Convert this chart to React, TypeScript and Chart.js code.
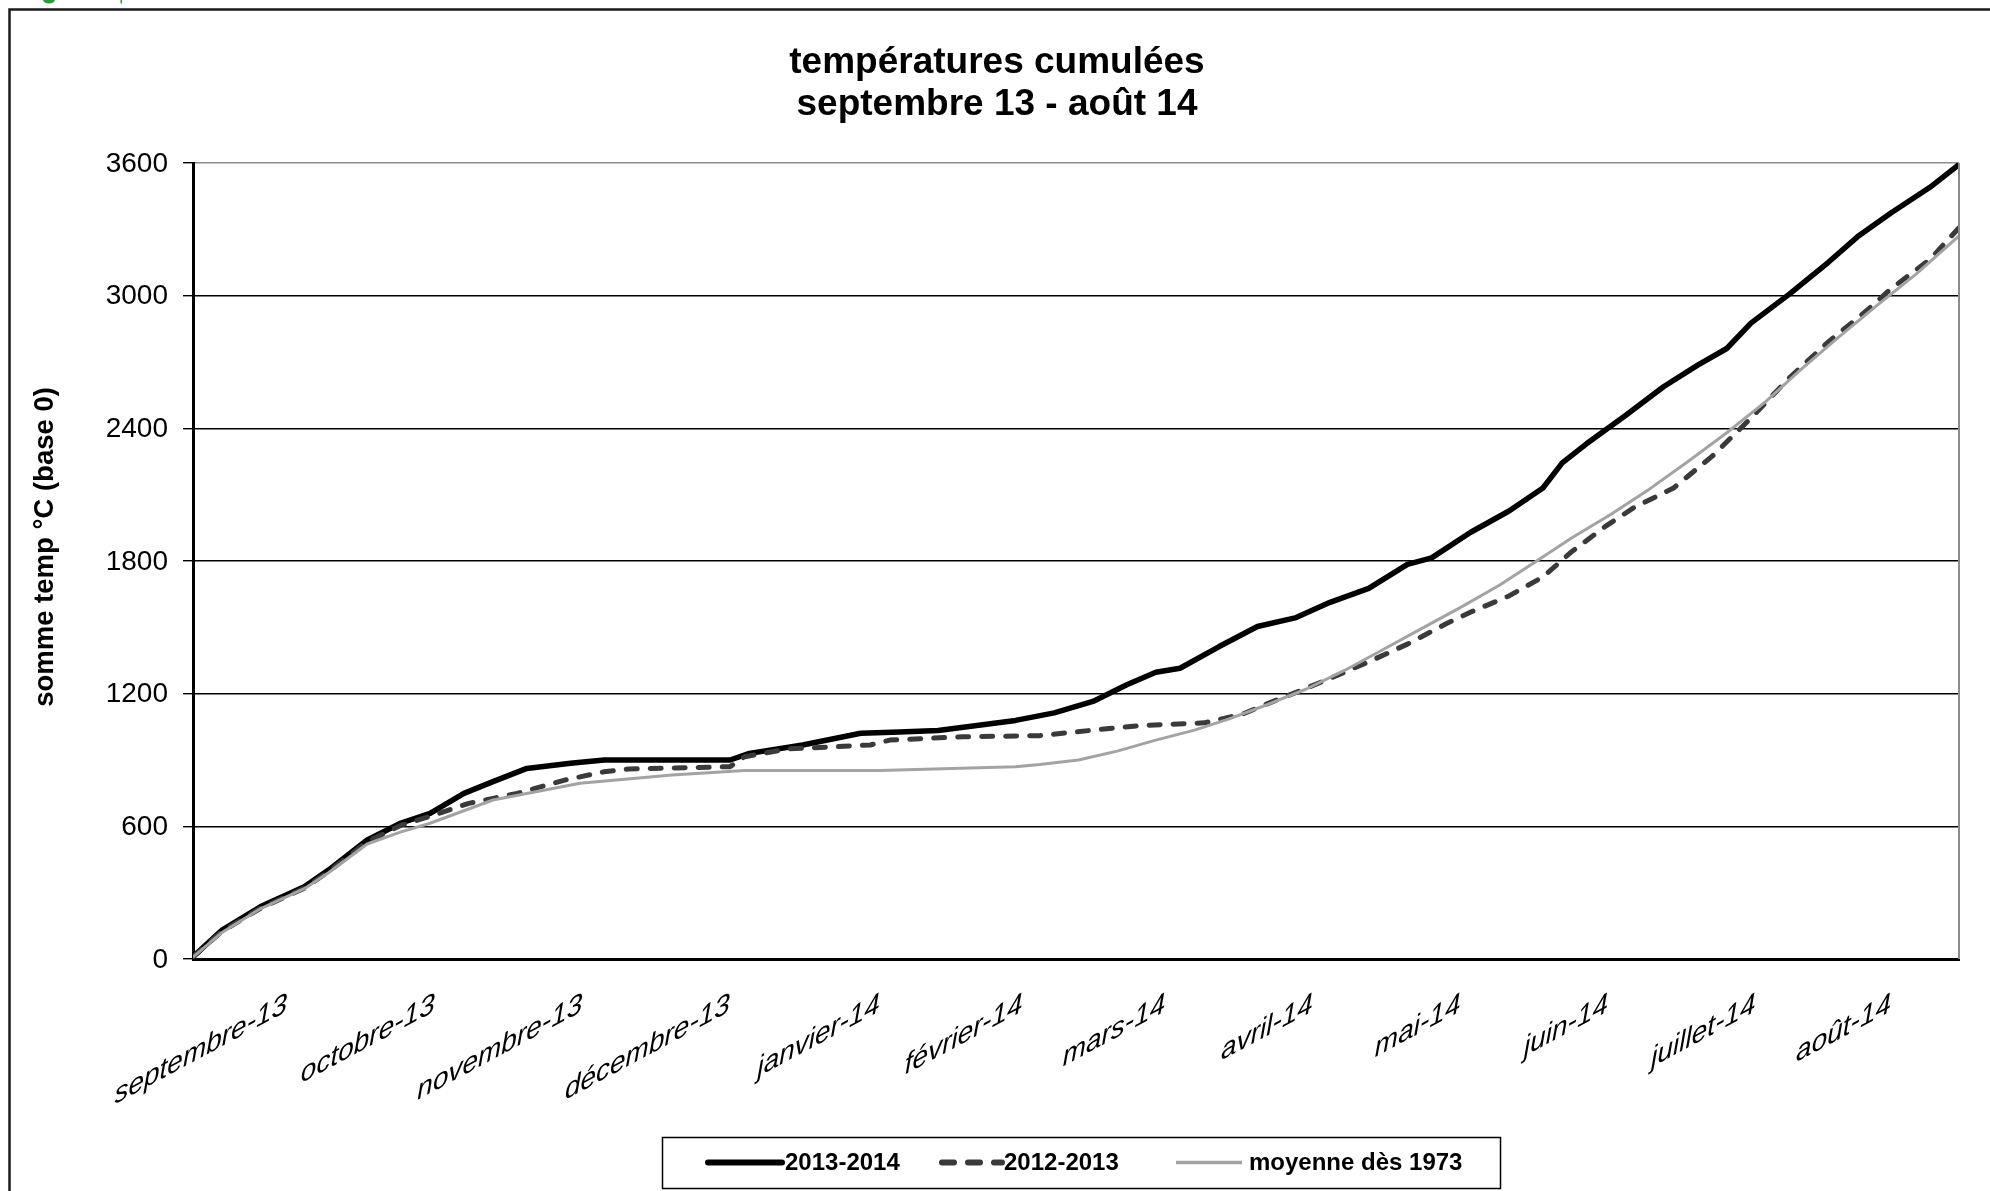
import React, { useEffect, useRef } from 'react';
import { Chart, registerables } from 'chart.js';

Chart.register(...registerables);

const FONT = '"Liberation Sans", Arial, Helvetica, sans-serif';

const TITLE_LINES = ['températures cumulées', 'septembre 13 - août 14'];
const Y_TITLE = 'somme temp °C (base 0)';
const Y_TICKS = [0, 600, 1200, 1800, 2400, 3000, 3600];
const MONTH_LABELS = [
  'septembre-13', 'octobre-13', 'novembre-13', 'décembre-13', 'janvier-14', 'février-14',
  'mars-14', 'avril-14', 'mai-14', 'juin-14', 'juillet-14', 'août-14',
];
const MONTH_CENTER_DAYS = [14.5, 45, 75.5, 106, 137, 166.5, 196, 226.5, 257, 287.5, 318, 346];
const SERIES_NAMES = ['2013-2014', '2012-2013', 'moyenne dès 1973'];

// 2013-2014 (day index from 1 Sept, cumulated °C)
const DAYS_1314 = [0, 6, 14, 23, 28, 36, 43, 49, 56, 62, 69, 78, 85, 111, 115, 126, 138, 146, 154, 162, 170, 178, 186, 193, 199, 204, 212, 220, 228, 235, 243, 251, 256, 264, 272, 279, 283, 288, 296, 304, 311, 317, 322, 330, 338, 344, 351, 359, 365];
const VALUES_1314 = [10, 131, 237, 327, 402, 538, 615, 659, 749, 802, 862, 885, 900, 900, 930, 968, 1021, 1027, 1033, 1056, 1079, 1113, 1165, 1240, 1297, 1315, 1412, 1504, 1544, 1613, 1676, 1785, 1814, 1929, 2026, 2130, 2244, 2330, 2457, 2589, 2686, 2761, 2876, 3008, 3151, 3266, 3375, 3490, 3593];

// 2012-2013
const DAYS_1213 = [0, 6, 14, 23, 28, 36, 43, 49, 57, 67, 77, 85, 90, 111, 114, 123, 140, 144, 159, 175, 186, 196, 209, 217, 222, 228, 235, 243, 251, 259, 264, 272, 279, 285, 292, 298, 306, 314, 322, 330, 338, 346, 351, 359, 365];
const VALUES_1213 = [10, 125, 230, 320, 395, 530, 605, 645, 704, 749, 810, 847, 859, 870, 915, 950, 968, 990, 1005, 1010, 1035, 1056, 1068, 1108, 1154, 1206, 1269, 1344, 1424, 1516, 1568, 1642, 1728, 1843, 1958, 2044, 2130, 2274, 2446, 2630, 2791, 2934, 3032, 3164, 3307];

// moyenne dès 1973
const DAYS_MEAN = [0, 6, 14, 23, 28, 36, 43, 49, 62, 80, 99, 114, 142, 170, 175, 183, 191, 199, 207, 214, 222, 230, 238, 246, 254, 262, 270, 277, 285, 293, 301, 309, 317, 325, 332, 340, 348, 356, 365];
const VALUES_MEAN = [8, 120, 228, 318, 390, 520, 575, 614, 719, 795, 832, 852, 852, 870, 880, 900, 940, 990, 1035, 1085, 1150, 1220, 1305, 1400, 1495, 1590, 1690, 1790, 1905, 2010, 2125, 2250, 2380, 2520, 2660, 2810, 2955, 3095, 3270];

const COLORS = ['#000000', '#3a3a3a', '#a3a3a3'];
const WIDTHS = [5.5, 5, 3];
const DASH_1213 = [11, 13];

const toPoints = (days: number[], vals: number[]) => days.map((d, i) => ({ x: d, y: vals[i] }));

const decorPlugin = {
  id: 'decor',
  beforeDraw(chart: any) {
    const ctx = chart.ctx;
    ctx.save();
    ctx.fillStyle = '#ffffff';
    ctx.fillRect(0, 0, chart.width, chart.height);
    ctx.restore();
  },
  afterDraw(chart: any) {
    const ctx = chart.ctx;
    const area = chart.chartArea;
    const xs = chart.scales.x;
    const ys = chart.scales.y;
    ctx.save();

    // small green logo remnant at top-left
    ctx.fillStyle = '#2e9a3e';
    ctx.beginPath();
    ctx.ellipse(49, 0, 6, 3.5, 0, 0, Math.PI * 2);
    ctx.fill();
    ctx.fillRect(120.5, 0, 1.5, 3.5);

    // outer frame (left & top visible)
    ctx.strokeStyle = '#1a1a1a';
    ctx.lineWidth = 2.5;
    ctx.beginPath();
    ctx.moveTo(9.5, chart.height + 5);
    ctx.lineTo(9.5, 9.5);
    ctx.lineTo(chart.width + 5, 9.5);
    ctx.stroke();

    // right border of plot area (gray)
    ctx.strokeStyle = '#8c8c8c';
    ctx.lineWidth = 2;
    ctx.beginPath();
    ctx.moveTo(area.right, area.top);
    ctx.lineTo(area.right, area.bottom);
    ctx.stroke();

    // title
    ctx.fillStyle = '#000';
    ctx.textAlign = 'center';
    ctx.textBaseline = 'alphabetic';
    ctx.font = `bold 37px ${FONT}`;
    ctx.fillText(TITLE_LINES[0], 997, 73);
    ctx.fillText(TITLE_LINES[1], 997, 115);

    // y tick labels
    ctx.font = `28px ${FONT}`;
    ctx.textAlign = 'right';
    ctx.textBaseline = 'middle';
    Y_TICKS.forEach((v) => {
      ctx.fillText(String(v), area.left - 25, ys.getPixelForValue(v) + 1);
    });

    // y axis title
    ctx.save();
    ctx.translate(45, 547);
    ctx.rotate(-Math.PI / 2);
    ctx.font = `bold 27.5px ${FONT}`;
    ctx.textAlign = 'center';
    ctx.textBaseline = 'middle';
    ctx.fillText(Y_TITLE, 0, 0);
    ctx.restore();

    // x labels (skewed, Excel-like)
    ctx.font = `italic 28px ${FONT}`;
    ctx.textAlign = 'right';
    ctx.textBaseline = 'alphabetic';
    MONTH_LABELS.forEach((lab, i) => {
      const ax = xs.getPixelForValue(MONTH_CENTER_DAYS[i]) + 24;
      const ay = area.bottom + 52;
      ctx.save();
      ctx.setTransform(1, -0.54, 0, 1, ax, ay);
      ctx.fillText(lab, 0, 0);
      ctx.restore();
    });

    // legend
    const lx0 = 662, ly0 = 1137, lx1 = 1500, ly1 = 1188;
    const cy = (ly0 + ly1) / 2;
    ctx.strokeStyle = '#000';
    ctx.lineWidth = 1.5;
    ctx.strokeRect(lx0 + 0.5, ly0 + 0.5, lx1 - lx0, ly1 - ly0);
    ctx.font = `bold 24px ${FONT}`;
    ctx.textAlign = 'left';
    ctx.textBaseline = 'middle';
    const items = [
      { x0: 708, x1: 782, tx: 785 },
      { x0: 942, x1: 1002, tx: 1004 },
      { x0: 1176, x1: 1242, tx: 1249 },
    ];
    items.forEach((it, i) => {
      ctx.save();
      ctx.beginPath();
      ctx.rect(it.x0 - 4, cy - 10, it.x1 - it.x0 + 8, 20);
      ctx.clip();
      ctx.strokeStyle = COLORS[i];
      ctx.lineWidth = i === 2 ? 3.5 : 6;
      ctx.lineCap = i === 2 ? 'butt' : 'round';
      ctx.setLineDash(i === 1 ? [12, 14] : []);
      ctx.beginPath();
      ctx.moveTo(it.x0, cy);
      ctx.lineTo(it.x1, cy);
      ctx.stroke();
      ctx.restore();
      ctx.fillStyle = '#000';
      ctx.fillText(SERIES_NAMES[i], it.tx, cy + 1);
    });

    ctx.restore();
  },
};

export default function App() {
  const canvasRef = useRef<HTMLCanvasElement | null>(null);

  useEffect(() => {
    const canvas = canvasRef.current;
    if (!canvas) return;
    const chart = new Chart(canvas, {
      type: 'line',
      data: {
        datasets: [
          {
            label: SERIES_NAMES[0],
            data: toPoints(DAYS_1314, VALUES_1314),
            borderColor: COLORS[0],
            borderWidth: WIDTHS[0],
            borderCapStyle: 'round',
            borderJoinStyle: 'round',
            pointRadius: 0,
            fill: false,
            order: 3,
          },
          {
            label: SERIES_NAMES[1],
            data: toPoints(DAYS_1213, VALUES_1213),
            borderColor: COLORS[1],
            borderWidth: WIDTHS[1],
            borderDash: DASH_1213,
            borderCapStyle: 'round',
            borderJoinStyle: 'round',
            pointRadius: 0,
            fill: false,
            order: 2,
          },
          {
            label: SERIES_NAMES[2],
            data: toPoints(DAYS_MEAN, VALUES_MEAN),
            borderColor: COLORS[2],
            borderWidth: WIDTHS[2],
            borderJoinStyle: 'round',
            pointRadius: 0,
            fill: false,
            order: 1,
          },
        ],
      },
      options: {
        animation: false,
        responsive: false,
        maintainAspectRatio: false,
        devicePixelRatio: 1,
        events: [],
        layout: { padding: { top: 163, right: 31, bottom: 0, left: 0 } },
        plugins: {
          legend: { display: false },
          title: { display: false },
          tooltip: { enabled: false },
        },
        elements: { line: { tension: 0 }, point: { radius: 0 } },
        scales: {
          x: {
            type: 'linear',
            min: 0,
            max: 365,
            grid: { display: false, drawTicks: false },
            ticks: { display: false },
            border: { display: true, color: '#000', width: 3 },
            afterFit: (s: any) => { s.height = 232; },
          },
          y: {
            type: 'linear',
            min: 0,
            max: 3600,
            afterBuildTicks: (s: any) => { s.ticks = Y_TICKS.map((v) => ({ value: v })); },
            ticks: { display: false },
            grid: {
              color: (c: any) => (c.tick && c.tick.value === 3600 ? '#8c8c8c' : '#000'),
              lineWidth: 1.4,
              drawTicks: true,
              tickLength: 10,
              tickColor: '#000',
              tickWidth: 1.4,
            },
            border: { display: true, color: '#000', width: 3 },
            afterFit: (s: any) => { s.width = 193; },
          },
        },
      },
      plugins: [decorPlugin],
    } as any);
    return () => chart.destroy();
  }, []);

  return (
    <div style={{ position: 'absolute', left: 0, top: 0, width: 1990, height: 1191, background: '#fff' }}>
      <canvas ref={canvasRef} width={1990} height={1191} />
    </div>
  );
}
